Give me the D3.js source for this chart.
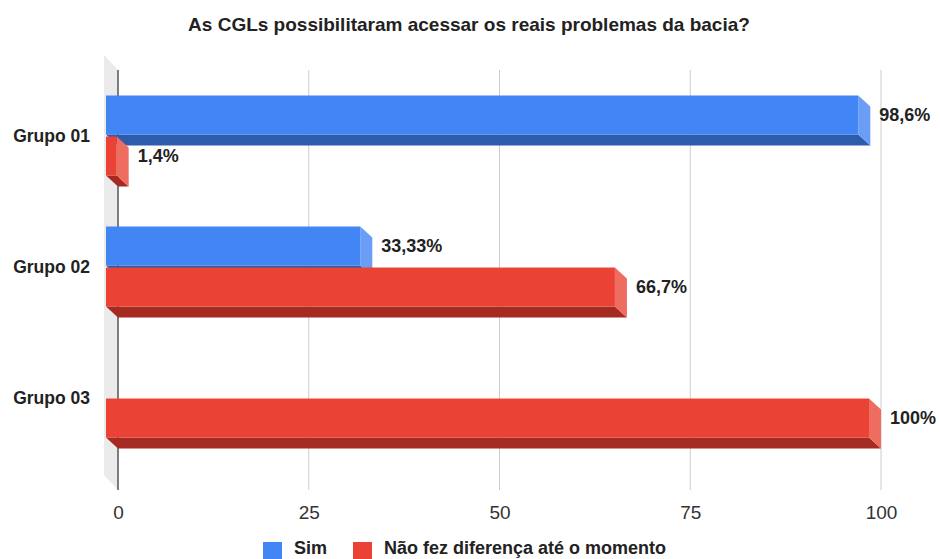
<!DOCTYPE html>
<html>
<head>
<meta charset="utf-8">
<script src="https://cdn.jsdelivr.net/npm/d3@7"></script>
<style>
  html, body { margin: 0; padding: 0; background: #fff; }
  svg { display: block; font-family: "Liberation Sans", Arial, sans-serif; }
</style>
</head>
<body>
<svg id="chart" width="940" height="559"></svg>
<script>
// Chart data
const title = "As CGLs possibilitaram acessar os reais problemas da bacia?";
const groups = ["Grupo 01", "Grupo 02", "Grupo 03"];
const seriesNames = ["Sim", "Não fez diferença até o momento"];
const simValues = [98.6, 33.33, 0];
const naoValues = [1.4, 66.7, 100];
const tickValues = [0, 25, 50, 75, 100];

const seriesValues = [simValues, naoValues];
const palette = [
  { front: "#4285f4", side: "#6a9ef6", bottom: "#2e5cad" },
  { front: "#ea4335", side: "#ef6c61", bottom: "#a52b22" }
];

const svg = d3.select("#chart");

// 3D geometry: back plane sits on the value scale, front faces are shifted up-left
const barDepth = { dx: 12, dy: 11 };
const wallDepth = { dx: 14, dy: 15 };
const plotTop = 70, plotBottom = 490;

const x = d3.scaleLinear().domain([0, 100]).range([118, 881]);
const y = d3.scaleBand().domain(groups).range([81, 474]);
const yInner = d3.scaleBand().domain(d3.range(seriesNames.length))
  .range([0, 80]).paddingInner(0.05);

// Title
svg.append("text")
  .attr("x", 469).attr("y", 31)
  .attr("text-anchor", "middle")
  .attr("font-size", 19).attr("font-weight", "bold")
  .attr("fill", "#222")
  .text(title);

// Left wall
const x0 = x(0);
svg.append("path")
  .attr("d", `M${x0},${plotTop} L${x0 - wallDepth.dx},${plotTop - wallDepth.dy} ` +
             `L${x0 - wallDepth.dx},${plotBottom - wallDepth.dy} L${x0},${plotBottom} Z`)
  .attr("fill", "#ebebeb");

// Gridlines
svg.append("g").selectAll("line")
  .data(tickValues.filter(t => t !== 0))
  .join("line")
  .attr("x1", d => x(d)).attr("x2", d => x(d))
  .attr("y1", plotTop).attr("y2", plotBottom)
  .attr("stroke", "#cccccc").attr("stroke-width", 1);

// Baseline
svg.append("line")
  .attr("x1", x0).attr("x2", x0)
  .attr("y1", plotTop).attr("y2", plotBottom)
  .attr("stroke", "#555").attr("stroke-width", 1.5);

// Value axis labels
const axis = d3.axisBottom(x).tickValues(tickValues).tickSize(0).tickPadding(0)
  .tickFormat(d3.format("d"));
const axisG = svg.append("g")
  .attr("transform", "translate(0, 519)")
  .call(axis);
axisG.select(".domain").remove();
axisG.selectAll("text")
  .attr("font-size", 19).attr("fill", "#333")
  .attr("font-family", "'Liberation Sans', Arial, sans-serif")
  .attr("dy", "0");

// Group labels
svg.append("g").selectAll("text")
  .data(groups)
  .join("text")
  .attr("x", 90)
  .attr("y", d => y(d) + y.bandwidth() / 2 - barDepth.dy)
  .attr("dy", "0.35em")
  .attr("text-anchor", "end")
  .attr("font-size", 17.5).attr("font-weight", "bold").attr("fill", "#222")
  .text(d => d);

// Bars
const bars = [];
groups.forEach((g, gi) => {
  seriesValues.forEach((vals, si) => {
    bars.push({ group: g, si, value: vals[gi] });
  });
});

const fmt = v => String(v).replace(".", ",") + "%";
const barsG = svg.append("g");

bars.filter(b => b.value > 0).forEach(b => {
  const c = palette[b.si];
  const top = y(b.group) + y.bandwidth() / 2 - 40 + yInner(b.si) - barDepth.dy;
  const h = yInner.bandwidth();
  const xl = x(0) - barDepth.dx;
  const xr = x(b.value) - barDepth.dx;
  const bot = top + h;
  const { dx, dy } = barDepth;
  const g = barsG.append("g");
  // bottom face
  g.append("path")
    .attr("d", `M${xl},${bot} L${xr},${bot} L${xr + dx},${bot + dy} L${xl + dx},${bot + dy} Z`)
    .attr("fill", c.bottom);
  // side face
  g.append("path")
    .attr("d", `M${xr},${top} L${xr + dx},${top + dy} L${xr + dx},${bot + dy} L${xr},${bot} Z`)
    .attr("fill", c.side);
  // front face
  g.append("rect")
    .attr("x", xl).attr("y", top)
    .attr("width", Math.max(0, xr - xl)).attr("height", h)
    .attr("fill", c.front);
  // value label
  g.append("text")
    .attr("x", x(b.value) + 9)
    .attr("y", top + h / 2)
    .attr("dy", "0.35em")
    .attr("font-size", 18).attr("font-weight", "bold").attr("fill", "#222")
    .text(fmt(b.value));
});

// Legend
const legend = svg.append("g");
const legendItems = [
  { name: seriesNames[0], x: 263 },
  { name: seriesNames[1], x: 353 }
];
legendItems.forEach((it, i) => {
  legend.append("rect")
    .attr("x", it.x).attr("y", 542)
    .attr("width", 19).attr("height", 17)
    .attr("fill", palette[i].front);
  legend.append("text")
    .attr("x", it.x + 31).attr("y", 554)
    .attr("font-size", 18).attr("font-weight", "bold").attr("fill", "#222")
    .text(it.name);
});
</script>
</body>
</html>
